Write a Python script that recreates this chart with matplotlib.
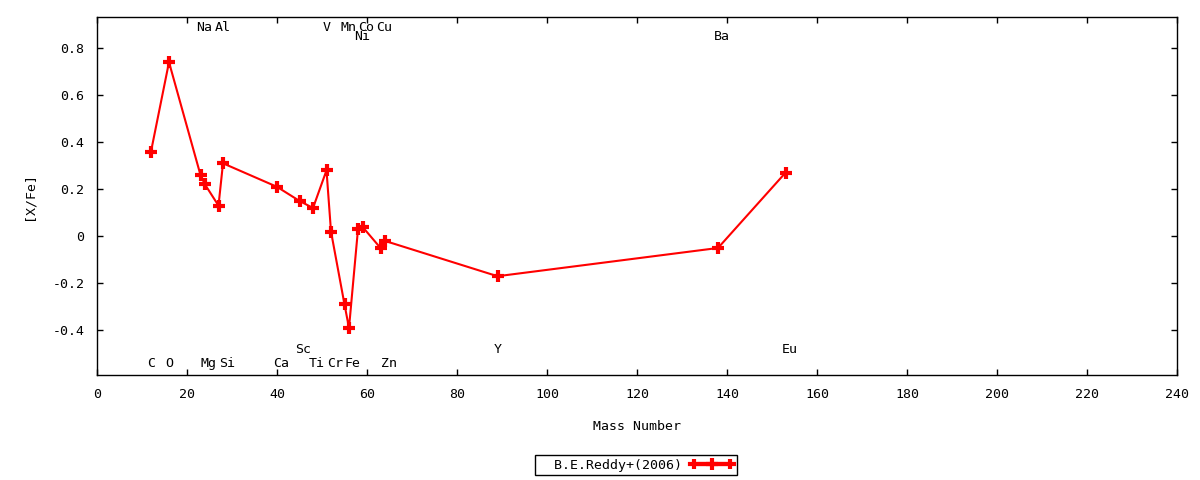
import matplotlib
matplotlib.use("Agg")
import matplotlib.pyplot as plt
from matplotlib.lines import Line2D
from matplotlib.legend_handler import HandlerLine2D, HandlerTuple

elements = ["C", "O", "Na", "Mg", "Al", "Si", "Ca", "Sc", "Ti", "V", "Cr", "Mn", "Fe",
            "Ni", "Co", "Cu", "Zn", "Y", "Ba", "Eu"]
mass = [12, 16, 23, 24, 27, 28, 40, 45, 48, 51, 52, 55, 56, 58, 59, 63, 64, 89, 138, 153]
xfe = [0.36, 0.74, 0.26, 0.22, 0.13, 0.31, 0.21, 0.15, 0.12, 0.28, 0.02, -0.29, -0.39,
       0.03, 0.04, -0.05, -0.02, -0.17, -0.05, 0.27]
# label rows (y level in data units) for each element
label_y = [-0.54, -0.54, 0.889, -0.54, 0.889, -0.54, -0.54, -0.481, -0.54, 0.889, -0.54,
           0.889, -0.54, 0.847, 0.889, 0.889, -0.54, -0.481, 0.847, -0.481]
series_name = "B.E.Reddy+(2006)"

FONT = "DejaVu Sans Mono"
FS = 9.5
plt.rcParams["font.family"] = FONT
plt.rcParams["font.size"] = FS

fig = plt.figure(figsize=(12, 4.8), dpi=100)
ax = fig.add_axes([97 / 1200, 1 - 375 / 480, 1080 / 1200, 358 / 480])

ax.plot(mass, xfe, color="red", lw=1.5, marker="+", ms=9, mew=3)

for el, m, ly in zip(elements, mass, label_y):
    ax.annotate(el, (m, ly), xytext=(-3, 0), textcoords="offset points",
                ha="left", va="center", fontsize=FS, color="black")

ax.set_xlim(0, 240)
ax.set_ylim(-0.59, 0.932)
ax.set_xticks(range(0, 241, 20))
ax.set_yticks([-0.4, -0.2, 0, 0.2, 0.4, 0.6, 0.8])
ax.set_yticklabels(["-0.4", "-0.2", "0", "0.2", "0.4", "0.6", "0.8"])
ax.tick_params(direction="in", length=4, width=1, top=True, right=True, pad=9,
               labelsize=FS, colors="black")
for s in ax.spines.values():
    s.set_linewidth(1)
    s.set_color("black")

ax.set_xlabel("Mass Number", fontsize=FS, labelpad=14)
ax.set_ylabel("[X/Fe]", fontsize=FS, labelpad=12)

h1 = Line2D([], [], color="red", lw=3, marker="|", ms=7, mew=3)
h2 = Line2D([], [], color="red", lw=3, marker="+", ms=9, mew=3)
leg = fig.legend([(h1, h2)], ["  " + series_name], loc="center",
                 bbox_to_anchor=(636 / 1200, 1 - 465 / 480),
                 markerfirst=False, fancybox=False, framealpha=1, edgecolor="black",
                 handlelength=3.3, borderpad=0.25, handletextpad=0.6, fontsize=FS,
                 handler_map={h1: HandlerLine2D(numpoints=2),
                              h2: HandlerLine2D(numpoints=1),
                              tuple: HandlerTuple(ndivide=1, pad=0)})
leg.get_frame().set_linewidth(1)

fig.savefig("out.png", dpi=100, facecolor="white")
